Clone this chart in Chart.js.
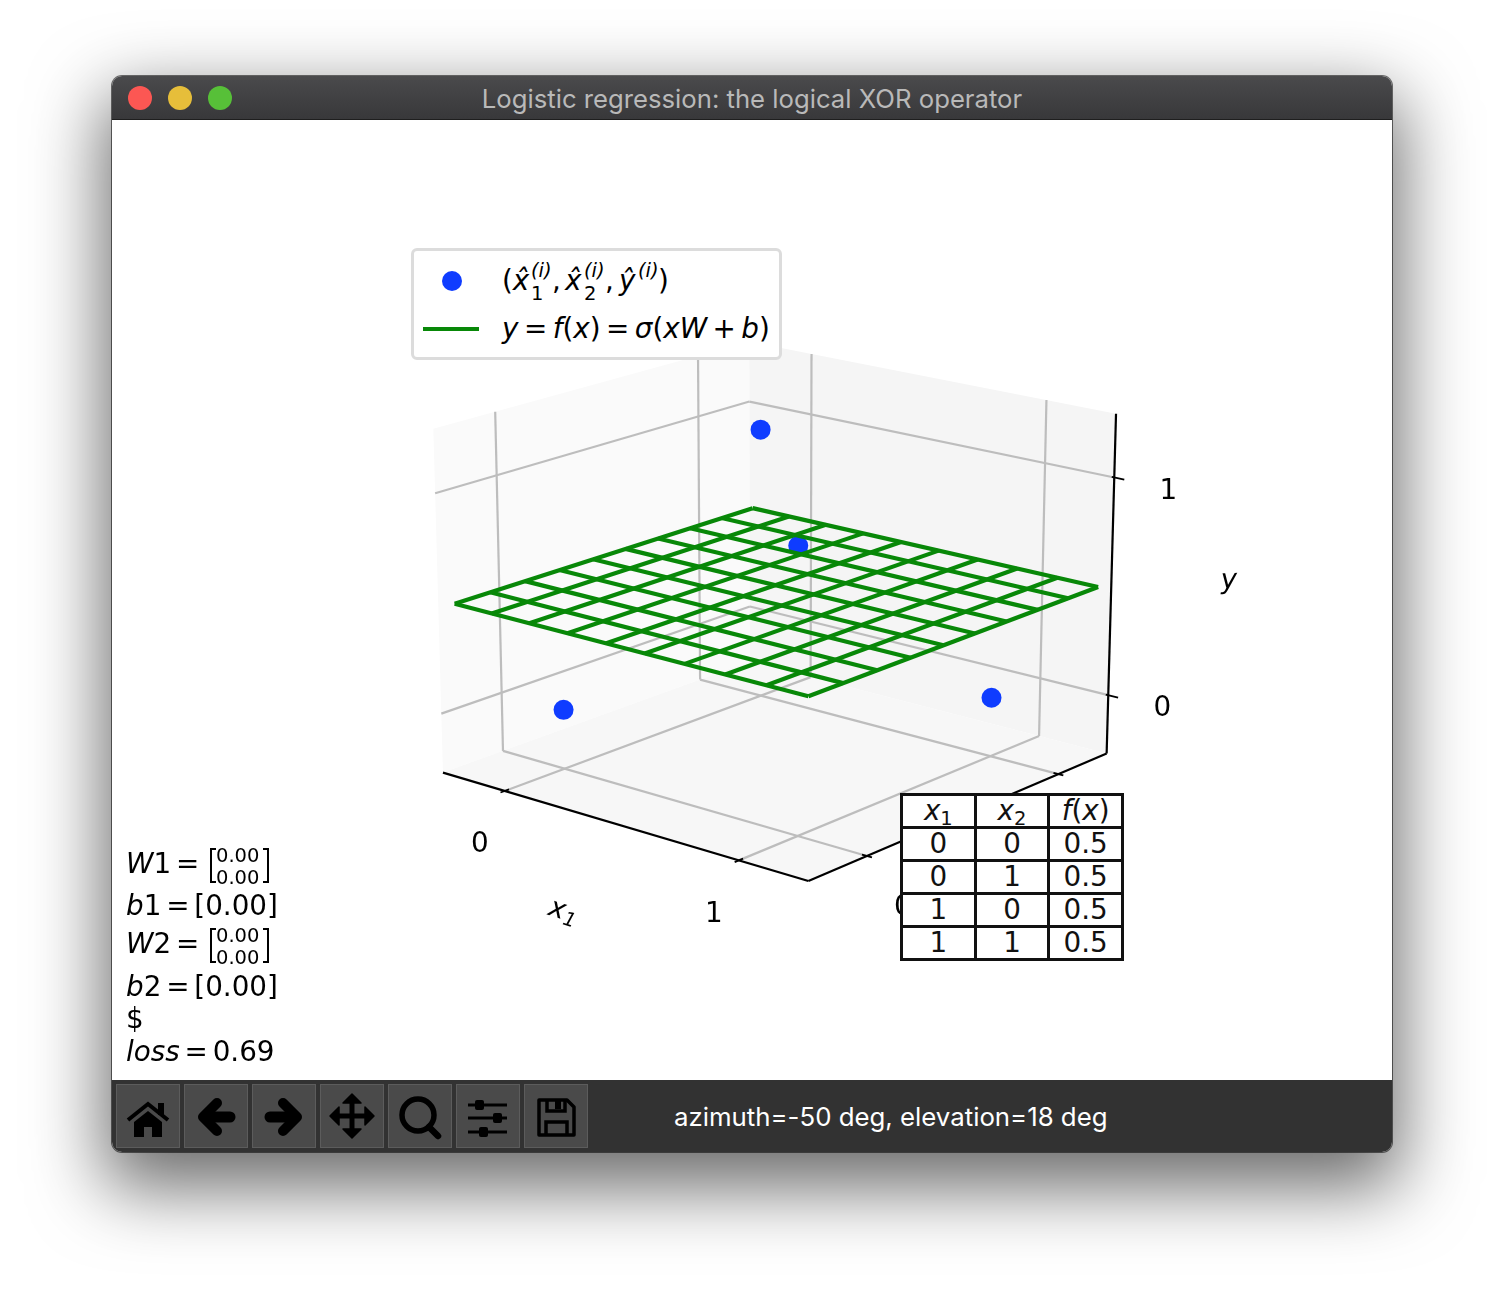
<!DOCTYPE html>
<html>
<head>
<meta charset="utf-8">
<title>Logistic regression: the logical XOR operator</title>
<script src="https://cdn.jsdelivr.net/npm/chart.js@4"></script>
<style>
html, body { margin: 0; padding: 0; background: #fff; width: 1504px; height: 1300px; overflow: hidden; }
.window { position: absolute; left: 112px; top: 76px; width: 1280px; height: 1076px; border-radius: 10px; background: #fff;
  box-shadow: 0 0 0 1px rgba(0,0,0,.55), 0 28px 72px 8px rgba(0,0,0,.58); }
.titlebar { position: absolute; left: 0; top: 0; width: 1280px; height: 43px; border-radius: 10px 10px 0 0;
  background: linear-gradient(#4a4a4c, #38383a); border-bottom: 1px solid #1e1e1e; }
.titlebar .title { position: absolute; left: 0; width: 1280px; top: 7px; text-align: center; color: #b9b9b9;
  font: 25.7px Inter, sans-serif; white-space: nowrap; }
.light { position: absolute; top: 10px; width: 24px; height: 24px; border-radius: 50%; }
.figure { position: absolute; left: 0; top: 44px; width: 1280px; height: 960px; background: #fff; overflow: hidden; }
canvas { position: absolute; left: 0; top: 0; }
.toolbar { position: absolute; left: 0; top: 1004px; width: 1280px; height: 72px; background: #323232; border-radius: 0 0 10px 10px; }
.btn { position: absolute; top: 4px; width: 62px; height: 62px; background: #4a4a4a; border: 1px solid #5c5c5c; }
.btn svg { position: absolute; left: -1px; top: -1px; }
.status { position: absolute; left: 562px; top: 21px; color: #fff; font: 25.8px Inter, sans-serif; white-space: nowrap; }
.m { position: absolute; font-family: "DejaVu Sans", sans-serif; font-size: 27.8px; line-height: 32px; color: #000; white-space: nowrap; word-spacing: -4px; }
.m i { font-style: oblique; }
.small { font-size: 19.5px; }
.legend { position: absolute; left: 300px; top: 129px; width: 363px; height: 104px; background: #fff; border: 3px solid #dcdcdc; border-radius: 6px; margin: -1px; padding: 1px; }
.dot { position: absolute; left: 27.5px; top: 20px; width: 20px; height: 20px; border-radius: 50%; background: #0f3cff; }
.dash { position: absolute; left: 9px; top: 76px; width: 56px; height: 4px; background: #088808; }
.br { position: absolute; width: 6px; height: 35px; border: 2px solid #000; box-sizing: border-box; }
.br.l { border-right: 0; } .br.r { border-left: 0; }
table { position: absolute; left: 788px; top: 673px; width: 224px; border-collapse: collapse; table-layout: fixed; background: #fff; }
td { border: 3px solid #111; padding: 0 0 1px 0; text-align: center; font: 27.8px/28px "DejaVu Sans", sans-serif; color: #111; height: 29px; overflow: hidden; }
td i { font-style: oblique; }
sub { font-size: 19.5px; line-height: 0; vertical-align: -5px; }
</style>
</head>
<body>
<div class="window">
  <div class="titlebar">
    <div class="light" style="left:16px;background:#fc5753"></div>
    <div class="light" style="left:56px;background:#e6be3a"></div>
    <div class="light" style="left:96px;background:#57c038"></div>
    <div class="title">Logistic regression: the logical XOR operator</div>
  </div>
  <div class="figure">
    <canvas id="chart" width="1280" height="960"></canvas>

    <div class="legend">
      <div class="dot"></div>
      <div class="dash"></div>
    </div>
    <div class="m" style="left:390px;top:145px">(<i>x̂</i></div>
    <div class="m small" style="left:419px;top:135px"><i>(i)</i></div>
    <div class="m small" style="left:419px;top:158px">1</div>
    <div class="m" style="left:440px;top:145px">,</div>
    <div class="m" style="left:453px;top:145px"><i>x̂</i></div>
    <div class="m small" style="left:472px;top:135px"><i>(i)</i></div>
    <div class="m small" style="left:472px;top:158px">2</div>
    <div class="m" style="left:493px;top:145px">,</div>
    <div class="m" style="left:507px;top:145px"><i>ŷ</i></div>
    <div class="m small" style="left:526px;top:135px"><i>(i)</i></div>
    <div class="m" style="left:546px;top:145px">)</div>
    <div class="m" style="left:390px;top:193px;word-spacing:-3.4px"><i>y</i> = <i>f</i>(<i>x</i>) = <i>σ</i>(<i>xW</i> + <i>b</i>)</div>

    <div class="m" style="left:14px;top:728px"><i>W</i>1 =</div>
    <div class="br l" style="left:98px;top:728px"></div>
    <div class="m small" style="left:104px;top:720px">0.00</div>
    <div class="m small" style="left:104px;top:742px">0.00</div>
    <div class="br r" style="left:151px;top:728px"></div>
    <div class="m" style="left:14px;top:770px"><i>b</i>1 = [0.00]</div>
    <div class="m" style="left:14px;top:808px"><i>W</i>2 =</div>
    <div class="br l" style="left:98px;top:808px"></div>
    <div class="m small" style="left:104px;top:800px">0.00</div>
    <div class="m small" style="left:104px;top:822px">0.00</div>
    <div class="br r" style="left:151px;top:808px"></div>
    <div class="m" style="left:14px;top:851px"><i>b</i>2 = [0.00]</div>
    <div class="m" style="left:14px;top:883px">$</div>
    <div class="m" style="left:14px;top:916px"><i>loss</i> = 0.69</div>

    <table id="truth"></table>
  </div>
  <div class="toolbar">
    <div class="btn" style="left:4px"><svg width="64" height="64" viewBox="0 0 64 64"><path d="M12 36 L32 20 L52 36" fill="none" stroke="#000" stroke-width="4"/><rect x="42" y="19" width="6" height="12"/><path d="M18 38 L32 27 L46 38 V53 H36 V43 H28 V53 H18 Z"/></svg></div>
    <div class="btn" style="left:72px"><svg width="64" height="64" viewBox="0 0 64 64"><path d="M46 33 H22" stroke="#000" stroke-width="11" stroke-linecap="round"/><path d="M33 19 L19 33 L33 47" fill="none" stroke="#000" stroke-width="10" stroke-linecap="round" stroke-linejoin="round"/></svg></div>
    <div class="btn" style="left:140px"><svg width="64" height="64" viewBox="0 0 64 64"><path d="M18 33 H42" stroke="#000" stroke-width="11" stroke-linecap="round"/><path d="M31 19 L45 33 L31 47" fill="none" stroke="#000" stroke-width="10" stroke-linecap="round" stroke-linejoin="round"/></svg></div>
    <div class="btn" style="left:208px"><svg width="64" height="64" viewBox="0 0 64 64"><path d="M32 14 V50 M14 32 H50" stroke="#000" stroke-width="5"/><path d="M32 10 L41 19 H23 Z M32 54 L41 45 H23 Z M10 32 L19 23 V41 Z M54 32 L45 23 V41 Z" stroke="#000" stroke-width="1.5" stroke-linejoin="round"/></svg></div>
    <div class="btn" style="left:276px"><svg width="64" height="64" viewBox="0 0 64 64"><circle cx="30" cy="31" r="16" fill="none" stroke="#000" stroke-width="5.5"/><path d="M41 43 L50 52" stroke="#000" stroke-width="6.5" stroke-linecap="round"/></svg></div>
    <div class="btn" style="left:344px"><svg width="64" height="64" viewBox="0 0 64 64"><path d="M12 21 H51 M12 34 H51 M12 48 H51" stroke="#000" stroke-width="3"/><rect x="19" y="16" width="9" height="10" rx="2"/><rect x="37" y="29" width="9" height="10" rx="2"/><rect x="23" y="43" width="9" height="10" rx="2"/></svg></div>
    <div class="btn" style="left:412px"><svg width="64" height="64" viewBox="0 0 64 64"><path d="M15 16 H43 L50 23 V51 H15 Z" fill="none" stroke="#000" stroke-width="3.5" stroke-linejoin="round"/><path d="M23 16 V27 H41 V16" fill="none" stroke="#000" stroke-width="3.5"/><rect x="31" y="17" width="6" height="8"/><path d="M22 51 V38 H43 V51" fill="none" stroke="#000" stroke-width="3.5"/></svg></div>
    <div class="status">azimuth=-50 deg, elevation=18 deg</div>
  </div>
</div>

<script>
// XOR samples
const x1Values = [0, 0, 1, 1];
const x2Values = [0, 1, 0, 1];
const yValues = [0, 1, 1, 0];
const fValues = ["0.5", "0.5", "0.5", "0.5"];

// f(x) surface, evaluated on a 10 x 10 mesh
const meshTicks = [-0.245, -0.079, 0.087, 0.253, 0.419, 0.581, 0.747, 0.913, 1.079, 1.245];
const meshValue = 0.5;

// axes
const tickValues = [0, 1];
const tickLabels = ["0", "1"];
const x1Lim = [-0.28, 1.28];
const x2Lim = [-0.285, 1.27];
const yLim = [-0.274, 1.286];

// camera, same idea as mplot3d
const azim = -50 * Math.PI / 180;
const elev = 18 * Math.PI / 180;
const dist = 8.75;
const zAspect = 0.8;
const n = [Math.cos(elev) * Math.cos(azim), Math.cos(elev) * Math.sin(azim), Math.sin(elev)];
const u = [-Math.sin(azim), Math.cos(azim), 0];
const v = [n[1] * u[2] - n[2] * u[1], n[2] * u[0] - n[0] * u[2], n[0] * u[1] - n[1] * u[0]];

function project(a, b, c) {
	const q = [
		(a - x1Lim[0]) / (x1Lim[1] - x1Lim[0]) - 0.5,
		(b - x2Lim[0]) / (x2Lim[1] - x2Lim[0]) - 0.5,
		((c - yLim[0]) / (yLim[1] - yLim[0]) - 0.5) * zAspect,
	];
	const d = dist - (n[0] * q[0] + n[1] * q[1] + n[2] * q[2]);
	return {
		x: (u[0] * q[0] + u[1] * q[1]) / d,
		y: (v[0] * q[0] + v[1] * q[1] + v[2] * q[2]) / d,
	};
}

function segment(from, to, color, width, order) {
	return {
		type: "scatter",
		showLine: true,
		data: [project(...from), project(...to)],
		borderColor: color,
		borderWidth: width,
		pointRadius: 0,
		tension: 0,
		order: order,
	};
}

const datasets = [];
const gridColor = "#bdbdbd";
const [x0, x9] = x1Lim, [b0, b9] = x2Lim, [y0, y9] = yLim;

// gridlines on floor and walls
tickValues.forEach((t) => {
	datasets.push(segment([t, b0, y0], [t, b9, y0], gridColor, 2.2, 5));
	datasets.push(segment([t, b9, y0], [t, b9, y9], gridColor, 2.2, 5));
	datasets.push(segment([x0, t, y0], [x9, t, y0], gridColor, 2.2, 5));
	datasets.push(segment([x0, t, y0], [x0, t, y9], gridColor, 2.2, 5));
	datasets.push(segment([x0, b0, t], [x0, b9, t], gridColor, 2.2, 5));
	datasets.push(segment([x0, b9, t], [x9, b9, t], gridColor, 2.2, 5));
});

// axis lines and ticks
datasets.push(segment([x0, b0, y0], [x9, b0, y0], "#000", 2.2, 4));
datasets.push(segment([x9, b0, y0], [x9, b9, y0], "#000", 2.2, 4));
datasets.push(segment([x9, b9, y0], [x9, b9, y9], "#000", 2.2, 4));
tickValues.forEach((t) => {
	datasets.push(segment([t, b0 - 0.02, y0], [t, b0 + 0.02, y0], "#000", 1.8, 4));
	datasets.push(segment([x9 - 0.02, t, y0], [x9 + 0.02, t, y0], "#000", 1.8, 4));
	datasets.push(segment([x9 - 0.01, b9, t], [x9 + 0.04, b9, t], "#000", 1.8, 4));
});

// XOR points sit under the surface
datasets.push({
	type: "scatter",
	data: x1Values.map((a, i) => project(a, x2Values[i], yValues[i])),
	backgroundColor: "#0f3cff",
	borderWidth: 0,
	pointRadius: 10,
	order: 3,
});

// surface wireframe
meshTicks.forEach((t) => {
	const first = meshTicks[0], last = meshTicks[meshTicks.length - 1];
	datasets.push(segment([t, first, meshValue], [t, last, meshValue], "#088808", 4.2, 1));
	datasets.push(segment([first, t, meshValue], [last, t, meshValue], "#088808", 4.2, 1));
});

const panes = [
	{ color: "#fafafa", corners: [[x0, b0, y0], [x0, b9, y0], [x0, b9, y9], [x0, b0, y9]] },
	{ color: "#f5f5f5", corners: [[x0, b9, y0], [x9, b9, y0], [x9, b9, y9], [x0, b9, y9]] },
	{ color: "#f7f7f7", corners: [[x0, b0, y0], [x9, b0, y0], [x9, b9, y0], [x0, b9, y0]] },
];

const axes3d = {
	id: "axes3d",
	beforeDatasetsDraw(chart) {
		const { ctx, scales } = chart;
		ctx.save();
		panes.forEach((pane) => {
			ctx.beginPath();
			pane.corners.forEach((c) => {
				const p = project(...c);
				ctx.lineTo(scales.x.getPixelForValue(p.x), scales.y.getPixelForValue(p.y));
			});
			ctx.closePath();
			ctx.fillStyle = pane.color;
			ctx.fill();
		});
		ctx.restore();
	},
	afterDatasetsDraw(chart) {
		const { ctx, scales } = chart;
		const at = (a, b, c) => {
			const p = project(a, b, c);
			return [scales.x.getPixelForValue(p.x), scales.y.getPixelForValue(p.y)];
		};
		const label = (text, a, b, c, dx, dy) => {
			const [px, py] = at(a, b, c);
			ctx.fillText(text, px + dx, py + dy);
		};
		ctx.save();
		ctx.fillStyle = "#000";
		ctx.textAlign = "center";
		ctx.textBaseline = "middle";
		ctx.font = '27.8px "DejaVu Sans"';
		tickValues.forEach((t, i) => {
			label(tickLabels[i], t, b0, y0, -25, 54);
			label(tickLabels[i], x9, t, y0, 36, 52);
			label(tickLabels[i], x9, b9, t, 54, 14);
		});
		// axis titles
		const title = (main, sub, px, py, rot) => {
			ctx.save();
			ctx.translate(px, py);
			ctx.rotate(rot);
			ctx.font = 'oblique 27.8px "DejaVu Sans"';
			ctx.fillText(main, 0, 0);
			if (sub) {
				ctx.font = 'oblique 19.5px "DejaVu Sans"';
				ctx.fillText(sub, 15, 7);
			}
			ctx.restore();
		};
		title("x", "1", 445, 790, 0.3);
		title("x", "2", 870, 785, -0.4);
		title("y", "", 1117, 461, -0.03);
		ctx.restore();
	},
};

new Chart(document.getElementById("chart"), {
	type: "scatter",
	data: { datasets: datasets },
	plugins: [axes3d],
	options: {
		responsive: false,
		animation: false,
		events: [],
		layout: { padding: 0, autoPadding: false },
		plugins: { legend: { display: false }, tooltip: { enabled: false } },
		scales: {
			x: { display: false, min: -0.15909, max: 0.14713 },
			y: { display: false, min: -0.12354, max: 0.12074 },
		},
	},
});

// truth table from the same arrays
const rows = ['<tr><td><i>x</i><sub>1</sub></td><td><i>x</i><sub>2</sub></td><td><i>f</i>(<i>x</i>)</td></tr>'];
x1Values.forEach((a, i) => {
	rows.push("<tr><td>" + a + "</td><td>" + x2Values[i] + "</td><td>" + fValues[i] + "</td></tr>");
});
document.getElementById("truth").innerHTML = rows.join("");
</script>
</body>
</html>
